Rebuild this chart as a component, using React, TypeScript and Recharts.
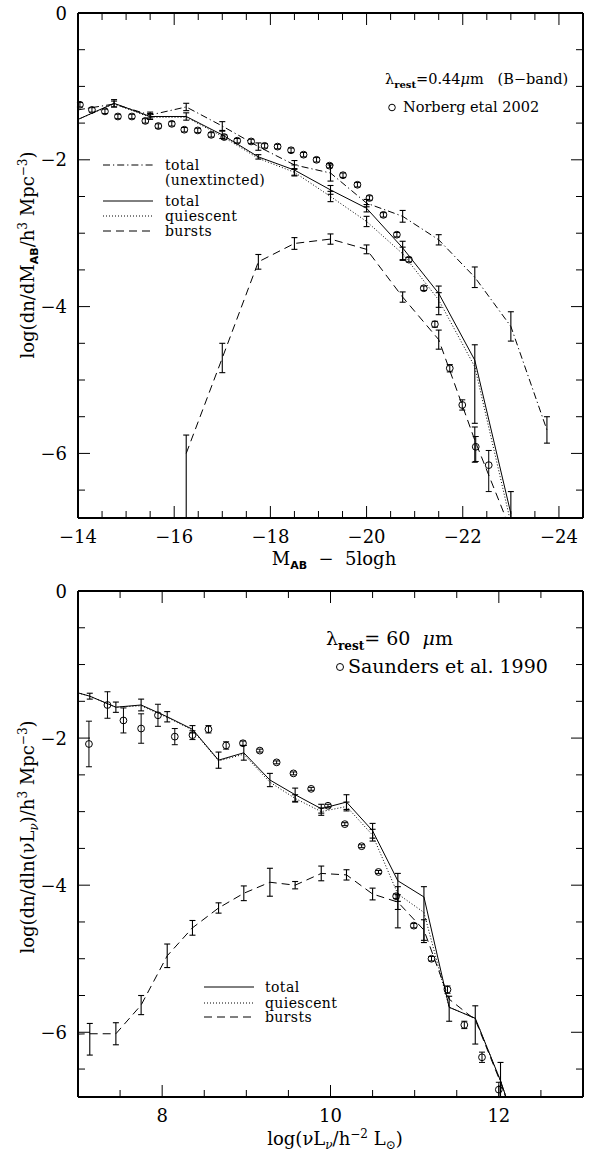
import React from "react";
import { ComposedChart, Line, Scatter, XAxis, YAxis, ErrorBar } from "recharts";

type Err = number | [number, number];
type Pt = { x: number; y: number; err: Err };

// ---- upper panel: B-band (x = M_AB - 5logh) ----
const magModel = [-14.0, -14.75, -15.5, -16.25, -17.0, -17.75, -18.5, -19.25, -20.0, -20.75, -21.5, -22.25, -23.0, -23.75];
const unextY = [-1.32, -1.24, -1.39, -1.28, -1.54, -1.82, -2.07, -2.18, -2.59, -2.77, -3.09, -3.6, -4.27, -5.68];
const unextErr: Err[] = [0, 0.04, 0.04, 0.05, 0.06, 0.05, 0.06, 0.11, 0.05, 0.08, 0.07, 0.14, 0.2, 0.18];
const bTotalY = [-1.45, -1.23, -1.41, -1.41, -1.66, -1.96, -2.14, -2.41, -2.66, -3.2, -3.82, -4.73, -6.82];
const bTotalErr: Err[] = [0, 0.05, 0.04, 0.05, 0.05, 0.03, 0.07, 0.06, 0.05, [0.16, 0.09], [0.29, 0.1], [0.86, 0.21], [0.06, 0.3]];
const bQuietY = [-1.45, -1.24, -1.42, -1.42, -1.68, -1.98, -2.17, -2.5, -2.84, -3.28, -3.91, -4.82, -6.95];
const bQuietErr: Err[] = [0, 0, 0, 0, 0, 0, 0.05, 0.07, 0.07, 0.09, 0.1, 0, 0];
const bBurstX = [-16.25, -17.0, -17.75, -18.5, -19.25, -20.0, -20.75, -21.5, -22.25, -23.0];
const bBurstY = [-6.0, -4.7, -3.39, -3.14, -3.08, -3.22, -3.87, -4.45, -5.82, -7.05];
const bBurstErr: Err[] = [[0.88, 0.25], 0.2, 0.1, 0.08, 0.07, 0.06, 0.07, 0.13, [0.3, 0.18], 0];
const norbergX = [-14.04, -14.29, -14.56, -14.83, -15.12, -15.4, -15.67, -15.95, -16.21, -16.49, -16.77, -17.04, -17.31, -17.6, -17.88, -18.15, -18.43, -18.69, -18.96, -19.23, -19.51, -19.81, -20.06, -20.35, -20.63, -20.88, -21.19, -21.42, -21.73, -21.99, -22.27, -22.54];
const norbergY = [-1.25, -1.32, -1.34, -1.41, -1.41, -1.47, -1.54, -1.51, -1.59, -1.6, -1.66, -1.69, -1.74, -1.75, -1.81, -1.82, -1.87, -1.93, -2.0, -2.08, -2.21, -2.34, -2.52, -2.75, -3.02, -3.36, -3.75, -4.24, -4.84, -5.34, -5.91, -6.16];
const norbergErr: Err[] = [0.03, 0.03, 0.03, 0.03, 0.03, 0.03, 0.03, 0.03, 0.03, 0.03, 0.03, 0.03, 0.03, 0.03, 0.03, 0.03, 0.03, 0.03, 0.03, 0.03, 0.03, 0.03, 0.03, 0.03, 0.03, 0.03, 0.03, 0.04, 0.05, 0.07, [0.2, 0.14], [0.36, 0.2]];
const magTicks = [-14, -14.5, -15, -15.5, -16, -16.5, -17, -17.5, -18, -18.5, -19, -19.5, -20, -20.5, -21, -21.5, -22, -22.5, -23, -23.5, -24];

// ---- lower panel: 60 micron (x = log nuL_nu) ----
const lumModel = [6.83, 7.14, 7.45, 7.75, 8.06, 8.36, 8.67, 8.97, 9.28, 9.58, 9.89, 10.19, 10.5, 10.8, 11.11, 11.41, 11.72, 12.02, 12.33];
const iTotalY = [-1.33, -1.43, -1.58, -1.55, -1.71, -1.88, -2.3, -2.2, -2.57, -2.77, -2.96, -2.87, -3.26, -3.94, -4.16, -5.66, -5.81, -6.66, -7.7];
const iTotalErr: Err[] = [0, 0.04, 0.07, 0.08, 0.07, 0.05, 0.11, 0.1, 0.09, 0.09, 0.06, 0.1, 0.1, [0.64, 0.1], [0.62, 0.14], [0.19, 0.15], [0.35, 0.17], [0.22, 0.25], 0];
const iQuietY = [-1.33, -1.43, -1.58, -1.56, -1.72, -1.89, -2.31, -2.22, -2.6, -2.82, -3.0, -2.93, -3.32, -4.12, -4.37, -5.66, -5.81, -6.66, -7.7];
const iQuietErr: Err[] = [0, 0, 0, 0, 0, 0, 0, 0, 0, 0.05, 0.05, 0.06, 0.08, 0.1, 0, 0, 0, 0, 0];
const iBurstY = [-6.03, -6.02, -6.02, -5.63, -4.96, -4.58, -4.31, -4.11, -3.96, -4.0, -3.84, -3.86, -4.12, -4.23, -4.61, -5.55, -5.83, -6.68, -7.7];
const iBurstErr: Err[] = [0, [0.29, 0.14], 0.15, 0.13, 0.16, 0.1, 0.07, 0.1, 0.19, 0.05, 0.1, 0.07, 0.08, 0.1, 0.14, 0, 0, 0, 0];
const saundersX = [7.13, 7.35, 7.54, 7.75, 7.95, 8.15, 8.36, 8.55, 8.76, 8.96, 9.16, 9.36, 9.56, 9.77, 9.97, 10.17, 10.37, 10.57, 10.78, 10.99, 11.2, 11.39, 11.59, 11.8, 12.0];
const saundersY = [-2.08, -1.55, -1.76, -1.87, -1.69, -1.98, -1.96, -1.88, -2.1, -2.07, -2.17, -2.33, -2.48, -2.69, -2.92, -3.17, -3.47, -3.82, -4.15, -4.55, -5.0, -5.42, -5.9, -6.34, -6.78];
const saundersErr: Err[] = [0.31, 0.18, 0.17, 0.2, 0.15, 0.11, 0.06, 0.05, 0.05, 0.03, 0.02, 0.02, 0.02, 0.02, 0.02, 0.02, 0.02, 0.02, 0.03, 0.03, 0.03, 0.05, 0.05, 0.07, 0.1];
const lumTicks = [7.5, 8, 8.5, 9, 9.5, 10, 10.5, 11, 11.5, 12, 12.5];

const yTicks = [0, -0.5, -1, -1.5, -2, -2.5, -3, -3.5, -4, -4.5, -5, -5.5, -6, -6.5];
const Y_MIN = -6.88;

const FONT = "'DejaVu Serif', serif";
const DASHDOT = "7 3 1.2 3";
const DOTTED = "1 2";
const DASHED = "8 5";

function pts(xs: number[], ys: number[], errs: Err[]): Pt[] {
  return ys.map((y, i) => ({ x: xs[i], y, err: errs[i] }));
}

const fmt = (v: number) => (v < 0 ? "\u2212" + Math.abs(v) : String(v));
const isMajor = (v: number) => Math.abs(v % 2) < 1e-6;

type Side = "bottom" | "top" | "left" | "right";

function makeTick(side: Side, edge: number, labels: boolean) {
  return (p: any) => {
    const v = p.payload.value as number;
    const major = isMajor(v);
    const len = major ? 12 : 7;
    if (side === "bottom" || side === "top") {
      const x = p.x;
      const dir = side === "bottom" ? -1 : 1;
      return (
        <g>
          <line x1={x} x2={x} y1={edge} y2={edge + dir * len} stroke="#000" strokeWidth={1} />
          {labels && major && (
            <text x={x} y={edge + 25} textAnchor="middle" fontFamily={FONT} fontSize={18} fill="#000">
              {fmt(v)}
            </text>
          )}
        </g>
      );
    }
    const y = p.y;
    const dir = side === "left" ? 1 : -1;
    return (
      <g>
        <line x1={edge} x2={edge + dir * len} y1={y} y2={y} stroke="#000" strokeWidth={1} />
        {labels && major && (
          <text x={edge - 11} y={y + 6.5} textAnchor="end" fontFamily={FONT} fontSize={18} fill="#000">
            {fmt(v)}
          </text>
        )}
      </g>
    );
  };
}

function OpenCircle(props: any) {
  const { cx, cy } = props;
  if (cx == null || cy == null) return null;
  return <circle cx={cx} cy={cy} r={3.4} fill="none" stroke="#000" strokeWidth={1} />;
}

type Series = { name: string; data: Pt[]; dash?: string; kind: "line" | "scatter" };

const W = 590;
const H = 577;
const LEFT = 78;
const RIGHT = 583;

function Panel(props: {
  top: number;
  bottom: number;
  domain: [number, number];
  reversed: boolean;
  xTicks: number[];
  series: Series[];
}) {
  const { top, bottom, domain, reversed, xTicks, series } = props;
  const axisLine = { stroke: "#000", strokeWidth: 2 };
  return (
    <ComposedChart width={W} height={H} margin={{ top: 0, right: 0, bottom: 0, left: 0 }}>
      <XAxis
        dataKey="x"
        type="number"
        domain={domain}
        reversed={reversed}
        ticks={xTicks}
        interval={0}
        allowDataOverflow
        height={H - bottom}
        axisLine={axisLine}
        tickLine={false}
        tick={makeTick("bottom", bottom, true)}
      />
      <XAxis
        xAxisId="top"
        orientation="top"
        dataKey="x"
        type="number"
        domain={domain}
        reversed={reversed}
        ticks={xTicks}
        interval={0}
        allowDataOverflow
        height={top}
        axisLine={axisLine}
        tickLine={false}
        tick={makeTick("top", top, false)}
      />
      <YAxis
        dataKey="y"
        type="number"
        domain={[Y_MIN, 0]}
        ticks={yTicks}
        interval={0}
        allowDataOverflow
        width={LEFT}
        axisLine={axisLine}
        tickLine={false}
        tick={makeTick("left", LEFT, true)}
      />
      <YAxis
        yAxisId="right"
        orientation="right"
        dataKey="y"
        type="number"
        domain={[Y_MIN, 0]}
        ticks={yTicks}
        interval={0}
        allowDataOverflow
        width={W - RIGHT}
        axisLine={axisLine}
        tickLine={false}
        tick={makeTick("right", RIGHT, false)}
      />
      {series.map((s) =>
        s.kind === "line" ? (
          <Line
            key={s.name}
            name={s.name}
            data={s.data}
            dataKey="y"
            type="linear"
            stroke="#000"
            strokeWidth={1}
            strokeDasharray={s.dash}
            dot={false}
            activeDot={false}
            isAnimationActive={false}
          >
            <ErrorBar dataKey="err" direction="y" width={3} stroke="#000" strokeWidth={1.1} />
          </Line>
        ) : (
          <Scatter
            key={s.name}
            name={s.name}
            data={s.data}
            dataKey="y"
            shape={OpenCircle}
            isAnimationActive={false}
          >
            <ErrorBar dataKey="err" direction="y" width={3} stroke="#000" strokeWidth={1} />
          </Scatter>
        )
      )}
    </ComposedChart>
  );
}

function LegendRow(props: { y: number; x0: number; x1: number; tx: number; dash?: string; label: string }) {
  const { y, x0, x1, tx, dash, label } = props;
  return (
    <g>
      <line x1={x0} x2={x1} y1={y} y2={y} stroke="#000" strokeWidth={1} strokeDasharray={dash} />
      <text x={tx} y={y + 4.5} fontFamily={FONT} fontSize={14} letterSpacing={0.4} fill="#000">
        {label}
      </text>
    </g>
  );
}

const overlayStyle: React.CSSProperties = { position: "absolute", left: 0, top: 0, pointerEvents: "none" };
const pre: React.CSSProperties = { whiteSpace: "pre" };

function TopOverlay() {
  return (
    <svg width={W} height={H} style={overlayStyle}>
      <text transform="rotate(-90, 34, 255)" x={34} y={255} textAnchor="middle" fontFamily={FONT} fontSize={18} fill="#000">
        log(dn/dM
        <tspan dy={4} fontSize={11} fontFamily="'DejaVu Sans', sans-serif" fontWeight="bold">AB</tspan>
        <tspan dy={-4}>/h</tspan>
        <tspan dy={-7} fontSize={12}>3</tspan>
        <tspan dy={7}> Mpc</tspan>
        <tspan dy={-7} fontSize={12}>{"\u22123"}</tspan>
        <tspan dy={7}>)</tspan>
      </text>
      <text x={334} y={565} textAnchor="middle" fontFamily={FONT} fontSize={18} fill="#000" style={pre}>
        M
        <tspan dy={4} fontSize={11} fontFamily="'DejaVu Sans', sans-serif" fontWeight="bold">AB</tspan>
        <tspan dy={-4}>{"  \u2212  5logh"}</tspan>
      </text>
      <text x={385} y={84} fontFamily={FONT} fontSize={14.5} fill="#000" style={pre}>
        λ
        <tspan dy={4} fontSize={10} fontWeight="bold">rest</tspan>
        <tspan dy={-4}>=0.44</tspan>
        <tspan fontStyle="italic">μ</tspan>
        <tspan>{"m   (B\u2212band)"}</tspan>
      </text>
      <circle cx={392} cy={107.5} r={3.3} fill="none" stroke="#000" strokeWidth={1} />
      <text x={403} y={112} fontFamily={FONT} fontSize={14.5} fill="#000">
        Norberg etal 2002
      </text>
      <LegendRow y={165} x0={103} x1={153} tx={165} dash={DASHDOT} label="total" />
      <text x={165} y={185} fontFamily={FONT} fontSize={14} letterSpacing={0.4} fill="#000">
        (unextincted)
      </text>
      <LegendRow y={201} x0={103} x1={153} tx={165} label="total" />
      <LegendRow y={216} x0={103} x1={153} tx={165} dash={DOTTED} label="quiescent" />
      <LegendRow y={231} x0={103} x1={153} tx={165} dash={DASHED} label="bursts" />
    </svg>
  );
}

function BottomOverlay() {
  return (
    <svg width={W} height={H} style={overlayStyle}>
      <text transform="rotate(-90, 34, 260)" x={34} y={260} textAnchor="middle" fontFamily={FONT} fontSize={18} fill="#000">
        log(dn/dln(νL
        <tspan dy={4} fontSize={12} fontStyle="italic">ν</tspan>
        <tspan dy={-4}>)/h</tspan>
        <tspan dy={-7} fontSize={12}>3</tspan>
        <tspan dy={7}> Mpc</tspan>
        <tspan dy={-7} fontSize={12}>{"\u22123"}</tspan>
        <tspan dy={7}>)</tspan>
      </text>
      <text x={335} y={568} textAnchor="middle" fontFamily={FONT} fontSize={18} fill="#000">
        log(νL
        <tspan dy={4} fontSize={12} fontStyle="italic">ν</tspan>
        <tspan dy={-4}>/h</tspan>
        <tspan dy={-7} fontSize={12}>{"\u22122"}</tspan>
        <tspan dy={7}> L</tspan>
        <tspan dy={4} fontSize={12}>⊙</tspan>
        <tspan dy={-4}>)</tspan>
      </text>
      <text x={326} y={68} fontFamily={FONT} fontSize={19} fill="#000" style={pre}>
        λ
        <tspan dy={5} fontSize={12} fontWeight="bold">rest</tspan>
        <tspan dy={-5}>{"= 60  "}</tspan>
        <tspan fontStyle="italic">μ</tspan>
        <tspan>m</tspan>
      </text>
      <circle cx={340} cy={90} r={3.5} fill="none" stroke="#000" strokeWidth={1} />
      <text x={348} y={96} fontFamily={FONT} fontSize={19} fill="#000">
        Saunders et al. 1990
      </text>
      <LegendRow y={410} x0={204} x1={254} tx={265} label="total" />
      <LegendRow y={426} x0={204} x1={254} tx={265} dash={DOTTED} label="quiescent" />
      <LegendRow y={440} x0={204} x1={254} tx={265} dash={DASHED} label="bursts" />
    </svg>
  );
}

const bandSeries: Series[] = [
  { name: "total (unextincted)", kind: "line", dash: DASHDOT, data: pts(magModel, unextY, unextErr) },
  { name: "total", kind: "line", data: pts(magModel, bTotalY, bTotalErr) },
  { name: "quiescent", kind: "line", dash: DOTTED, data: pts(magModel, bQuietY, bQuietErr) },
  { name: "bursts", kind: "line", dash: DASHED, data: pts(bBurstX, bBurstY, bBurstErr) },
  { name: "Norberg etal 2002", kind: "scatter", data: pts(norbergX, norbergY, norbergErr) },
];

const irSeries: Series[] = [
  { name: "total", kind: "line", data: pts(lumModel, iTotalY, iTotalErr) },
  { name: "quiescent", kind: "line", dash: DOTTED, data: pts(lumModel, iQuietY, iQuietErr) },
  { name: "bursts", kind: "line", dash: DASHED, data: pts(lumModel, iBurstY, iBurstErr) },
  { name: "Saunders et al. 1990", kind: "scatter", data: pts(saundersX, saundersY, saundersErr) },
];

export default function App() {
  return (
    <div style={{ position: "absolute", left: 0, top: 0, width: W, height: 1154, background: "#fff" }}>
      <div style={{ position: "absolute", left: 0, top: 0, width: W, height: H }}>
        <Panel top={13} bottom={518} domain={[-24.5, -14]} reversed xTicks={magTicks} series={bandSeries} />
        <TopOverlay />
      </div>
      <div style={{ position: "absolute", left: 0, top: H, width: W, height: H }}>
        <Panel top={14} bottom={520} domain={[7, 13]} reversed={false} xTicks={lumTicks} series={irSeries} />
        <BottomOverlay />
      </div>
    </div>
  );
}
